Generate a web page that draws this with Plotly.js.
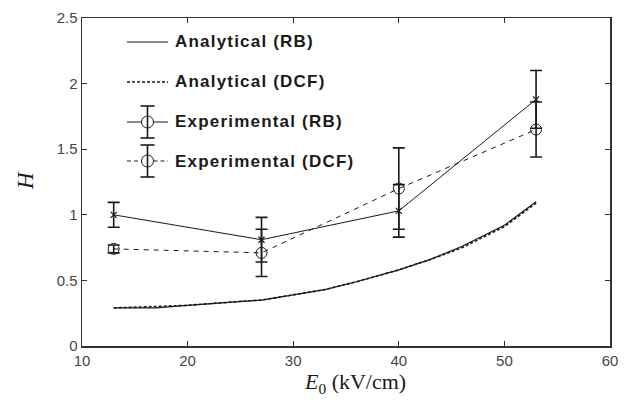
<!DOCTYPE html>
<html><head><meta charset="utf-8">
<script src="https://cdn.plot.ly/plotly-3.0.1.min.js"></script>
<style>
body{margin:0;background:#fff}#c{width:633px;height:400px}
#c .annotation[data-index="0"] .annotation-text,
#c .annotation[data-index="1"] .annotation-text,
#c .annotation[data-index="2"] .annotation-text,
#c .annotation[data-index="3"] .annotation-text{letter-spacing:1.2px}
</style>
</head><body><div id="c"></div>
<script>
// ---- data ----
const fieldKV = [13,17,20,25,27,30,33,36,40,43,46,50,53];
const analyticalRB = [0.29,0.29,0.31,0.34,0.35,0.39,0.43,0.49,0.58,0.66,0.76,0.92,1.10];
const analyticalDCF = [0.29,0.30,0.31,0.34,0.35,0.39,0.43,0.49,0.58,0.66,0.75,0.91,1.09];
const expField = [13,27,40,53];
const expRB = [1.00,0.81,1.03,1.88];
const expRBErr = [0.095,0.17,0.20,0.22];
const expDCF = [0.74,0.71,1.20,1.65];
const expDCFErr = [0.03,0.18,0.31,0.21];
const legendLabels = ['Analytical (RB)','Analytical (DCF)','Experimental (RB)','Experimental (DCF)'];
const xTicks = [10,20,30,40,50,60];
const yTicks = [0,0.5,1,1.5,2,2.5];
const xTitle = '<i>E</i><sub>0</sub> (kV/cm)';
const yTitle = '<i>H</i>';

// ---- layout geometry (pixels) ----
const W=633,H=400,L=82,R=23,T=18,B=54;
const PW=W-L-R, PH=H-T-B;
const px=(x)=>(x-L)/PW, py=(y)=>(H-B-y)/PH;

const ink='#1a1a1a';
const traces=[
 {x:fieldKV,y:analyticalRB,mode:'lines',line:{color:ink,width:1.2},showlegend:false},
 {x:fieldKV,y:analyticalDCF,mode:'lines',line:{color:ink,width:1.6,dash:'3px,2px'},showlegend:false},
 {x:expField,y:expRB,mode:'lines+markers',line:{color:ink,width:1},
  marker:{symbol:'x-thin-open',size:6,color:ink,line:{width:1.2,color:ink}},
  error_y:{type:'data',array:expRBErr,visible:true,color:ink,thickness:1.6,width:6},showlegend:false},
 {x:expField,y:expDCF,mode:'lines+markers',line:{color:ink,width:1,dash:'5px,5px'},
  marker:{symbol:'circle-open',size:11,color:ink,line:{width:1,color:ink}},
  error_y:{type:'data',array:expDCFErr,visible:true,color:ink,thickness:1.6,width:6},showlegend:false}
];

// ---- custom legend (MATLAB style) ----
const rows=[42,82,122,161];
const x0=127,x1=168,xc=147.5,xt=173;
const shapes=[], annotations=[];
rows.forEach((ry,i)=>{
  const dash = (i===1)?'3px,2px':(i===3?'4px,3px':'solid');
  if(i<2){
    shapes.push({type:'line',xref:'paper',yref:'paper',x0:px(x0),x1:px(x1),y0:py(ry),y1:py(ry),line:{color:ink,width:i===1?1.6:1.2,dash:dash}});
  } else {
    shapes.push({type:'line',xref:'paper',yref:'paper',x0:px(x0),x1:px(xc-6),y0:py(ry),y1:py(ry),line:{color:ink,width:1,dash:dash}});
    shapes.push({type:'line',xref:'paper',yref:'paper',x0:px(xc+6),x1:px(x1),y0:py(ry),y1:py(ry),line:{color:ink,width:1,dash:dash}});
    shapes.push({type:'line',xref:'paper',yref:'paper',x0:px(xc),x1:px(xc),y0:py(ry-16),y1:py(ry+16),line:{color:ink,width:1.6}});
    shapes.push({type:'line',xref:'paper',yref:'paper',x0:px(xc-7),x1:px(xc+7),y0:py(ry-16),y1:py(ry-16),line:{color:ink,width:1.6}});
    shapes.push({type:'line',xref:'paper',yref:'paper',x0:px(xc-7),x1:px(xc+7),y0:py(ry+16),y1:py(ry+16),line:{color:ink,width:1.6}});
    shapes.push({type:'circle',xref:'paper',yref:'paper',x0:px(xc-6),x1:px(xc+6),y0:py(ry-6),y1:py(ry+6),line:{color:ink,width:1}});
  }
  annotations.push({xref:'paper',yref:'paper',x:px(xt),y:py(ry),xanchor:'left',yanchor:'middle',align:'left',showarrow:false,
    text:legendLabels[i],font:{family:'Liberation Sans, Arial',size:17,color:ink,weight:'bold'}});
});
// axis titles
annotations.push({xref:'paper',yref:'paper',x:px(355),y:py(383),xanchor:'center',yanchor:'middle',showarrow:false,
  text:xTitle,font:{family:'Liberation Serif, Times New Roman',size:22,color:ink}});
annotations.push({xref:'paper',yref:'paper',x:px(25),y:py(181),xanchor:'center',yanchor:'middle',showarrow:false,textangle:-90,
  text:yTitle,font:{family:'Liberation Serif, Times New Roman',size:23,color:ink}});

const axisCommon={showgrid:false,zeroline:false,showline:true,linecolor:'#333',linewidth:1.5,mirror:'ticks',
  ticks:'inside',ticklen:5,tickwidth:1.2,tickcolor:'#333',tickfont:{family:'Liberation Sans, Arial',size:15,color:'#444'}};
const layout={
  width:W,height:H,margin:{l:L,r:R,t:T,b:B},paper_bgcolor:'#fff',plot_bgcolor:'#fff',showlegend:false,
  xaxis:Object.assign({},axisCommon,{range:[10,60],tickvals:xTicks,ticktext:xTicks.map(String)}),
  yaxis:Object.assign({},axisCommon,{range:[0,2.5],tickvals:yTicks,ticktext:yTicks.map(String)}),
  shapes:shapes,annotations:annotations
};
Plotly.newPlot('c',traces,layout,{staticPlot:true});
</script></body></html>
